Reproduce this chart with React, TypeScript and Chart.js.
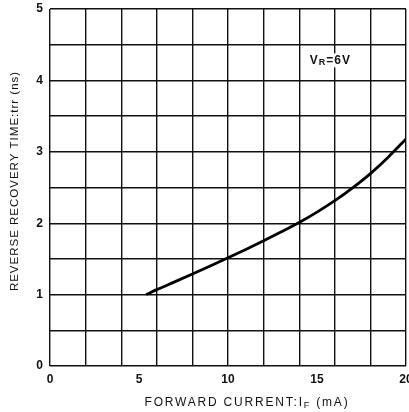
import React, { useEffect, useRef } from "react";
import { Chart, registerables } from "chart.js";

Chart.register(...registerables);

// Forward current IF (mA) and reverse recovery time trr (ns)
const currentMA = [5.4, 6, 7, 8, 9, 10, 11, 12, 13, 14, 15, 16, 17, 18, 19, 20];
const recoveryNs = [1.0, 1.07, 1.178, 1.288, 1.4, 1.515, 1.633, 1.755, 1.88, 2.01, 2.155, 2.315, 2.495, 2.695, 2.925, 3.18];

// Axis ranges and labelled ticks
const xRange = [0, 20];
const yRange = [0, 5];
const xLabelled = [0, 5, 10, 15, 20];
const yLabelled = [0, 1, 2, 3, 4, 5];

// Texts
const xTitle = [{ t: "FORWARD CURRENT:I" }, { t: "F", sub: true }, { t: " (mA)" }];
const yTitle = [{ t: "REVERSE RECOVERY TIME:trr (ns)" }];
const condition = [{ t: "V" }, { t: "R", sub: true }, { t: "=6V" }];
const conditionAt = { x: 15.75, y: 4.28 };

type Seg = { t: string; sub?: boolean };

const FONT_FAMILY = "'Liberation Sans', Arial, sans-serif";

function segWidth(ctx: CanvasRenderingContext2D, segs: Seg[], size: number, weight: string) {
  let w = 0;
  for (const s of segs) {
    ctx.font = `${weight} ${s.sub ? Math.round(size * 0.72) : size}px ${FONT_FAMILY}`;
    w += ctx.measureText(s.t).width;
  }
  return w;
}

function drawSegs(
  ctx: CanvasRenderingContext2D,
  segs: Seg[],
  cx: number,
  cy: number,
  size: number,
  weight: string
) {
  const w = segWidth(ctx, segs, size, weight);
  let x = cx - w / 2;
  ctx.textBaseline = "middle";
  ctx.textAlign = "left";
  for (const s of segs) {
    const sz = s.sub ? Math.round(size * 0.72) : size;
    ctx.font = `${weight} ${sz}px ${FONT_FAMILY}`;
    ctx.fillText(s.t, x, s.sub ? cy + size * 0.18 : cy);
    x += ctx.measureText(s.t).width;
  }
  return w;
}

const textPlugin = {
  id: "textPlugin",
  afterDraw(chart: any) {
    const ctx: CanvasRenderingContext2D = chart.ctx;
    const { x, y } = chart.scales;
    ctx.save();
    ctx.fillStyle = "#111";
    // x title
    (ctx as any).letterSpacing = "1.8px";
    drawSegs(ctx, xTitle, 247, 403, 12, "normal");
    // y title
    (ctx as any).letterSpacing = "1px";
    ctx.save();
    ctx.translate(15, 181);
    ctx.rotate(-Math.PI / 2);
    drawSegs(ctx, yTitle, 0, 0, 11.5, "normal");
    ctx.restore();
    // condition label with white background
    (ctx as any).letterSpacing = "1px";
    const px = x.getPixelForValue(conditionAt.x);
    const py = y.getPixelForValue(conditionAt.y);
    const w = segWidth(ctx, condition, 12, "bold");
    ctx.fillStyle = "#fff";
    ctx.fillRect(px - w / 2 - 2, py - 7, w + 4, 14);
    ctx.fillStyle = "#111";
    drawSegs(ctx, condition, px, py, 12, "bold");
    ctx.restore();
  },
};

export default function App() {
  const ref = useRef<HTMLCanvasElement>(null);

  useEffect(() => {
    const canvas = ref.current;
    if (!canvas) return;
    const chart = new Chart(canvas, {
      type: "line",
      data: {
        datasets: [
          {
            data: currentMA.map((v, i) => ({ x: v, y: recoveryNs[i] })),
            borderColor: "#000",
            borderWidth: 2.8,
            pointRadius: 0,
            cubicInterpolationMode: "monotone",
            fill: false,
          },
        ],
      },
      options: {
        animation: false,
        responsive: false,
        devicePixelRatio: 1,
        layout: { padding: { left: 0, right: 3, top: 9, bottom: 0 } },
        plugins: { legend: { display: false }, tooltip: { enabled: false } },
        scales: {
          x: {
            type: "linear",
            min: xRange[0],
            max: xRange[1],
            border: { display: false },
            grid: {
              drawTicks: false,
              lineWidth: 1.4,
              color: (c: any) => (Math.round(c.tick.value) % 2 === 0 ? "#111" : "rgba(0,0,0,0)"),
            },
            ticks: {
              stepSize: 1,
              autoSkip: false,
              maxRotation: 0,
              padding: 6,
              color: "#111",
              font: { family: FONT_FAMILY, size: 12, weight: "bold" },
              callback: (v: any) => (xLabelled.includes(Number(v)) ? String(v) : ""),
            },
            afterFit: (s: any) => {
              s.height = 46;
              s.paddingLeft = 0;
              s.paddingRight = 0;
            },
          },
          y: {
            min: yRange[0],
            max: yRange[1],
            border: { display: false },
            grid: { drawTicks: false, lineWidth: 1.4, color: "#111" },
            ticks: {
              stepSize: 0.5,
              autoSkip: false,
              padding: 7,
              color: "#111",
              font: { family: FONT_FAMILY, size: 12, weight: "bold" },
              callback: (v: any) => (yLabelled.includes(Number(v)) ? String(v) : ""),
            },
            afterFit: (s: any) => {
              s.width = 50;
              s.paddingTop = 0;
              s.paddingBottom = 0;
            },
          },
        },
      },
      plugins: [textPlugin],
    });
    return () => chart.destroy();
  }, []);

  return (
    <div style={{ position: "absolute", left: 0, top: 0, width: 409, height: 412, background: "#fff" }}>
      <canvas ref={ref} width={409} height={412} style={{ width: 409, height: 412, display: "block" }} />
    </div>
  );
}
